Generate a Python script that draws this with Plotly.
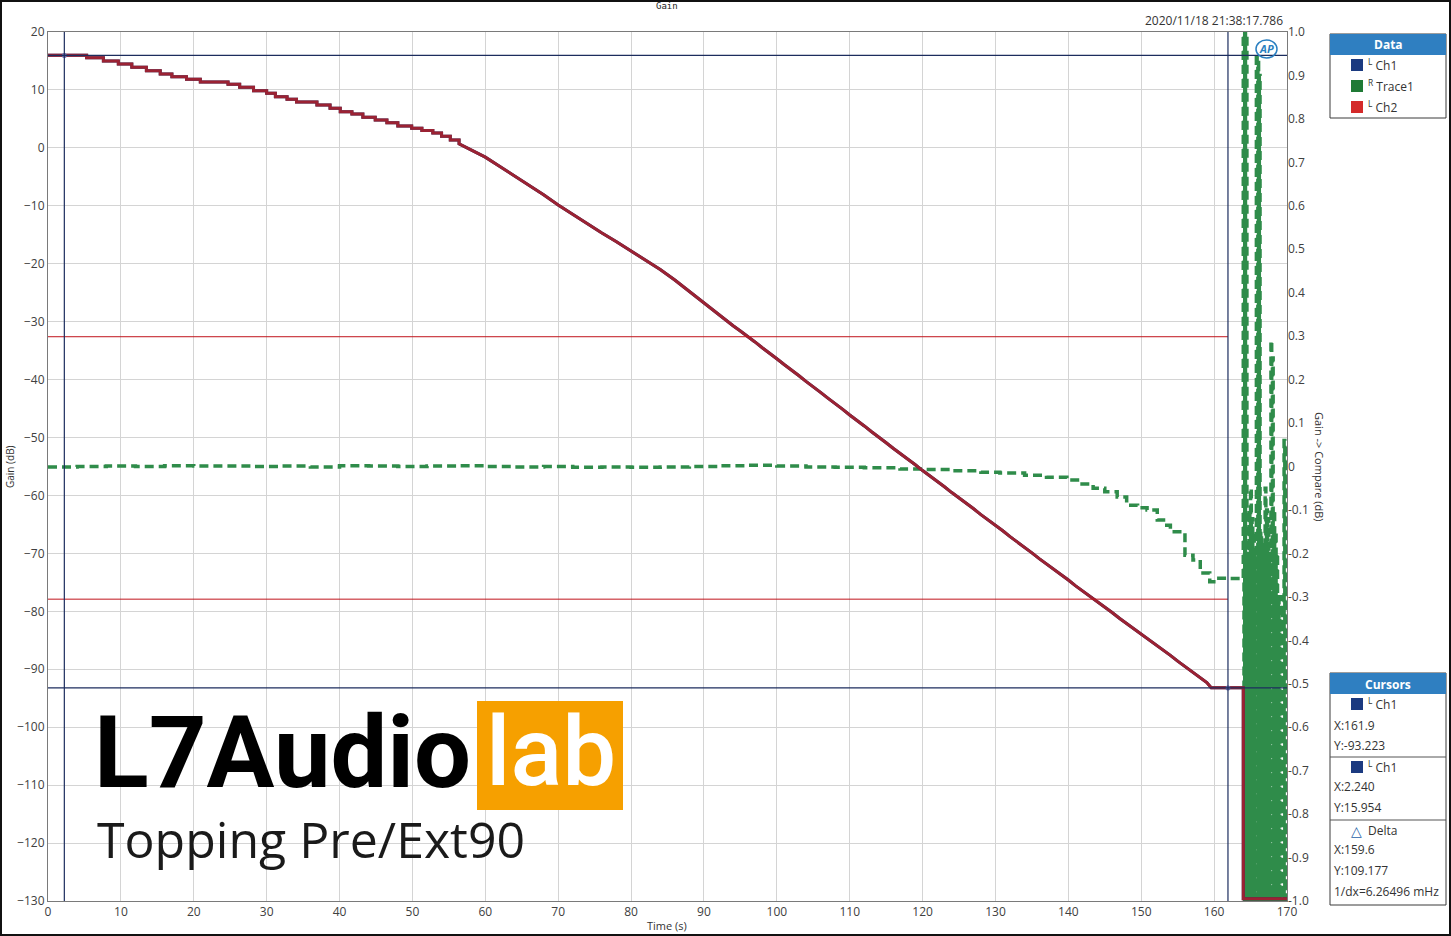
import plotly.graph_objects as go

# ---------------- data ----------------
# Ch1 / Ch2 gain (dB) vs time (s)  (Ch2 drawn over Ch1, identical sweep)
# early part: held level steps (start time, level)
step_t = [0, 5.3, 7.6, 9.65, 11.5, 13.5, 15.4, 17.0, 19.0, 20.9, 24.7, 26.3, 28.2, 30.0,
          31.2, 32.8, 34.1, 36.9, 38.7, 40.1, 41.7, 43.2, 44.9, 46.5, 48.0, 49.9, 51.3,
          52.8, 54.0, 55.2]
step_gain = [16.0, 15.56, 15.0, 14.48, 13.9, 13.32, 12.75, 12.28, 11.83, 11.37, 10.97,
             10.45, 9.87, 9.42, 8.83, 8.38, 7.92, 7.4, 6.83, 6.24, 5.85, 5.28, 4.81, 4.35,
             3.77, 3.4, 3.0, 2.56, 2.0, 1.36]
# later part: sweep points
ch_t = [56.4, 57.5, 60, 62, 64, 66, 68, 70, 72, 74, 76, 78, 80, 82, 84, 86, 88,
        90, 91, 92, 93, 94, 95, 96, 97, 98, 99, 100, 101, 102, 103, 104, 105, 106,
        107, 108, 109, 110, 111, 112, 113, 114, 115, 116, 117, 118, 119, 120, 121,
        122, 123, 124, 125, 126, 127, 128, 129, 130, 131, 132, 133, 134, 135, 136,
        137, 138, 139, 140, 141, 142, 143, 144, 145, 146, 147, 148, 149, 150, 151,
        152, 153, 154, 155, 156, 157, 158, 159, 159.6, 164.0, 164.0, 170.0]
ch_gain = [0.7, 0.0, -1.6, -3.2, -4.8, -6.4, -8.1, -9.85, -11.5, -13.1, -14.7, -16.2,
           -17.8, -19.4, -21.0, -22.8, -24.8,
           -26.8, -27.8, -28.7, -29.7, -30.7, -31.6, -32.5, -33.5, -34.5, -35.4, -36.4,
           -37.4, -38.3, -39.3, -40.3, -41.2, -42.2, -43.2, -44.1, -45.1, -46.1, -47.0,
           -48.0, -49.0, -49.9, -50.9, -51.9, -52.8, -53.8, -54.7, -55.7, -56.6, -57.6,
           -58.5, -59.5, -60.4, -61.4, -62.3, -63.3, -64.2, -65.2, -66.1, -67.1, -68.0,
           -69.0, -69.9, -70.9, -71.8, -72.8, -73.7, -74.6, -75.6, -76.5, -77.4, -78.4,
           -79.3, -80.2, -81.2, -82.1, -83.0, -84.0, -84.9, -85.8, -86.7, -87.6, -88.6,
           -89.5, -90.4, -91.3, -92.3, -93.2, -93.2, -129.6, -129.6]

# Trace1: Gain -> Compare (dB), right axis
tr_t = [0, 4, 8, 12, 16, 20, 24, 28, 32, 36, 40, 44, 48, 52, 56, 60, 64, 68, 72, 76,
        80, 84, 88, 92, 96, 100, 104, 108, 112, 116.9, 120, 124, 128, 130.6, 134, 137,
        139.8, 141.5, 143.4, 145, 146.7, 148, 149.5, 150.8, 152.2, 153.5, 154, 155.7,
        156, 157.1, 158.1, 159.4, 160.4, 162, 163.6,
        164.0, 164.1, 164.2, 164.3, 164.4, 164.5, 164.6, 164.7, 164.8, 164.9, 165.0,
        165.1, 165.2, 165.3, 165.4, 165.5, 165.6, 165.7, 165.8, 165.9, 166.0, 166.1,
        166.2, 166.3, 166.4, 166.5, 166.6, 166.7, 166.8, 166.9, 167.0, 167.1, 167.2,
        167.3, 167.4, 167.5, 167.6, 167.7, 167.8, 167.9, 168.0, 168.1, 168.2, 168.3,
        168.4, 168.5, 168.6, 168.7, 168.8, 168.9, 169.0, 169.1, 169.2, 169.3, 169.4,
        169.5, 169.6, 169.7, 169.8, 169.9, 170.0]
tr_val = [-0.001, 0.0, 0.001, 0.0, 0.002, 0.001, 0.001, 0.0, 0.001, -0.001, 0.002,
          0.001, 0.0, 0.001, 0.002, 0.0, -0.001, 0.0, -0.002, -0.001, -0.002, -0.001,
          0.0, 0.002, 0.003, 0.001, -0.001, -0.002, -0.003, -0.006, -0.007, -0.01,
          -0.013, -0.015, -0.02, -0.025, -0.031, -0.04, -0.05, -0.058, -0.07, -0.089,
          -0.095, -0.1, -0.123, -0.135, -0.15, -0.153, -0.204, -0.215, -0.245, -0.265,
          -0.257, -0.258, -0.259,
          1.3, -1.3, 1.3, -1.3, 1.3, -1.3, -0.2, -1.3, -0.1, -1.3, -0.05,
          -1.3, -0.12, -1.3, -0.15, -1.3, -0.2, -1.3, 0.95, -1.3, 0.93, -1.3,
          0.9, -1.3, -0.15, -1.3, -0.2, -1.3, -0.18, -1.3, -0.05, -1.3, -0.1,
          -1.3, -0.12, -1.3, -0.2, -1.3, 0.29, -1.3, 0.25, -1.3, -0.1, -1.3,
          -0.15, -1.3, -0.2, -1.3, -0.3, -1.3, -0.35, -1.3, -0.3, -1.3, -0.32,
          -1.3, 0.06, -1.3, 0.05, -1.3, -0.4]

# cursors
cursor_x = [161.9, 2.240]
cursor_y = [-93.223, 15.954]
red_levels = [-32.6, -77.9]

x_ticks = [0, 10, 20, 30, 40, 50, 60, 70, 80, 90, 100, 110, 120, 130, 140, 150, 160, 170]
y_ticks = [20, 10, 0, -10, -20, -30, -40, -50, -60, -70, -80, -90, -100, -110, -120, -130]
y2_ticks = [1.0, 0.9, 0.8, 0.7, 0.6, 0.5, 0.4, 0.3, 0.2, 0.1, 0.0, -0.1, -0.2, -0.3,
            -0.4, -0.5, -0.6, -0.7, -0.8, -0.9, -1.0]
y2_labels = ["1.0", "0.9", "0.8", "0.7", "0.6", "0.5", "0.4", "0.3", "0.2", "0.1", "0",
             "-0.1", "-0.2", "-0.3", "-0.4", "-0.5", "-0.6", "-0.7", "-0.8", "-0.9", "-1.0"]

# build the Ch path: held steps, then sweep points
path_t, path_g = [], []
for i, (t0, g) in enumerate(zip(step_t, step_gain)):
    t1 = step_t[i + 1] if i + 1 < len(step_t) else ch_t[0]
    path_t += [t0, t1]
    path_g += [g, g]
path_t += ch_t
path_g += ch_gain

# ---------------- layout geometry ----------------
W, H = 1451, 936
L, R, T, B = 48, 1287, 32, 901


def px(x):
    return (x - L) / (R - L)


def py(y):
    return (B - y) / (B - T)


FONT = "Open Sans"
NAVY = "#1c2d5e"
GREEN = "#2f8c4a"
MAROON = "#9b2233"
HEAD = "#2f7fc1"

fig = go.Figure()

fig.add_trace(go.Scatter(x=tr_t, y=tr_val, mode="lines", yaxis="y2", line_shape="hv",
                         line=dict(color=GREEN, width=3.5, dash="9px,5px"),
                         showlegend=False, hoverinfo="skip"))
fig.add_trace(go.Scatter(x=path_t, y=path_g, mode="lines", yaxis="y3",
                         line=dict(color=NAVY, width=3), showlegend=False, hoverinfo="skip"))
fig.add_trace(go.Scatter(x=path_t, y=path_g, mode="lines", yaxis="y3",
                         line=dict(color=MAROON, width=3), showlegend=False, hoverinfo="skip"))
fig.add_trace(go.Scatter(x=cursor_x, y=cursor_y, mode="markers", yaxis="y3",
                         marker=dict(color="#6a6aa8", size=5), showlegend=False,
                         hoverinfo="skip"))

shapes = []
for lv in red_levels:
    shapes.append(dict(type="line", xref="x", yref="y", x0=0, x1=cursor_x[0], y0=lv, y1=lv,
                       line=dict(color="#c0141c", width=1), layer="above"))
for cx in cursor_x:
    shapes.append(dict(type="line", xref="x", yref="paper", x0=cx, x1=cx, y0=0, y1=1,
                       line=dict(color=NAVY, width=1.2), layer="above"))
for cy in cursor_y:
    shapes.append(dict(type="line", xref="paper", yref="y", x0=0, x1=1, y0=cy, y1=cy,
                       line=dict(color=NAVY, width=1.2), layer="above"))

shapes.append(dict(type="rect", xref="paper", yref="paper", x0=px(1), x1=px(1450),
                   y0=py(935), y1=py(1), line=dict(color="#111", width=2)))


def box(x0, y0, x1, y1, hy):
    shapes.append(dict(type="rect", xref="paper", yref="paper", x0=px(x0), x1=px(x1),
                       y0=py(y1), y1=py(y0), line=dict(color="#3a3a3a", width=1),
                       fillcolor="white"))
    shapes.append(dict(type="rect", xref="paper", yref="paper", x0=px(x0), x1=px(x1),
                       y0=py(hy), y1=py(y0), line=dict(width=0), fillcolor=HEAD))


box(1330, 34, 1446, 118, 55)
box(1330, 673, 1446, 905, 694)
for sy in (757, 820):
    shapes.append(dict(type="line", xref="paper", yref="paper", x0=px(1330), x1=px(1446),
                       y0=py(sy), y1=py(sy), line=dict(color="#555", width=1)))


def square(cx, cy, color):
    shapes.append(dict(type="rect", xref="paper", yref="paper", x0=px(cx - 6), x1=px(cx + 6),
                       y0=py(cy + 6), y1=py(cy - 6), line=dict(width=0), fillcolor=color))


square(1357, 65, "#1b3a80")
square(1357, 86, "#1f7a35")
square(1357, 107, "#d42a2a")
square(1357, 704, "#1b3a80")
square(1357, 767, "#1b3a80")

shapes.append(dict(type="rect", xref="paper", yref="paper", x0=px(477), x1=px(623),
                   y0=py(810), y1=py(701), line=dict(width=0), fillcolor="#f6a000"))
shapes.append(dict(type="circle", xref="paper", yref="paper", x0=px(1256), x1=px(1277),
                   y0=py(58), y1=py(40), line=dict(color="#2a7fc0", width=1.5)))

ann = []


def text(x, y, s, size=12, color="#333", xa="left", ya="middle", family=FONT, angle=0,
         weight="normal"):
    ann.append(dict(x=px(x), y=py(y), xref="paper", yref="paper", text=s, showarrow=False,
                    xanchor=xa, yanchor=ya, textangle=angle,
                    font=dict(size=size, color=color, family=family, weight=weight)))


text(667, 6, "Gain", size=9, color="#222", xa="center", family="DejaVu Sans Mono")
text(1285, 21, "2020/11/18 21:38:17.786", size=12, xa="right")
text(10, 467, "Gain (dB)", size=10, xa="center", angle=-90)
text(1320, 467, "Gain -> Compare (dB)", size=11, xa="center", angle=90)
text(667, 925, "Time (s)", size=11, xa="center")
text(1266, 49, "<b><i>AP</i></b>", size=11, color="#2a7fc0", xa="center")

text(1388, 45, "<b>Data</b>", size=12, color="white", xa="center")
text(1366, 65, "<sup>L</sup> Ch1", size=12)
text(1366, 86, "<sup>R</sup> Trace1", size=12)
text(1366, 107, "<sup>L</sup> Ch2", size=12)

text(1388, 684, "<b>Cursors</b>", size=12, color="white", xa="center")
text(1366, 704, "<sup>L</sup> Ch1", size=12)
text(1332, 725, "X:161.9", size=12)
text(1332, 745, "Y:-93.223", size=12)
text(1366, 767, "<sup>L</sup> Ch1", size=12)
text(1332, 786, "X:2.240", size=12)
text(1332, 807, "Y:15.954", size=12)
text(1349, 830, "△", size=14, color="#1f5fa8")
text(1366, 830, "Delta", size=12)
text(1332, 849, "X:159.6", size=12)
text(1332, 870, "Y:109.177", size=12)
text(1332, 891, "1/dx=6.26496 mHz", size=12)

text(92, 752, "L7Audio", size=101, color="#000", family="Roboto", weight="bold")
text(551, 752, "lab", size=96, color="white", xa="center", family="Roboto", weight=500)
text(95, 839, "Topping Pre/Ext90", size=50, color="#1a1a1a", family="Open Sans")

axis_font = dict(size=12, color="#404040", family=FONT)
fig.update_layout(
    width=W, height=H,
    margin=dict(l=L, r=W - R, t=T, b=H - B),
    paper_bgcolor="white", plot_bgcolor="white",
    showlegend=False,
    xaxis=dict(range=[0, 170], tickvals=x_ticks, showgrid=True, gridcolor="#d4d4d4",
               gridwidth=1, zeroline=False, showline=True, linecolor="#7a7a7a",
               linewidth=1, mirror=True, ticks="", tickfont=axis_font, fixedrange=True),
    yaxis=dict(range=[-130, 20], tickvals=y_ticks, showgrid=True, gridcolor="#d4d4d4",
               gridwidth=1, zeroline=False, showline=True, linecolor="#7a7a7a",
               linewidth=1, mirror=True, ticks="", tickfont=axis_font),
    yaxis2=dict(range=[-1, 1], overlaying="y", side="right", tickvals=y2_ticks,
                ticktext=y2_labels, showgrid=False, zeroline=False, showline=False,
                ticks="", tickfont=axis_font),
    yaxis3=dict(range=[-130, 20], overlaying="y", visible=False),
    shapes=shapes,
    annotations=ann,
)

fig.write_html("out.html", config={"displayModeBar": False},
               post_script="document.body.style.margin='0px';document.body.style.padding='0px';")
